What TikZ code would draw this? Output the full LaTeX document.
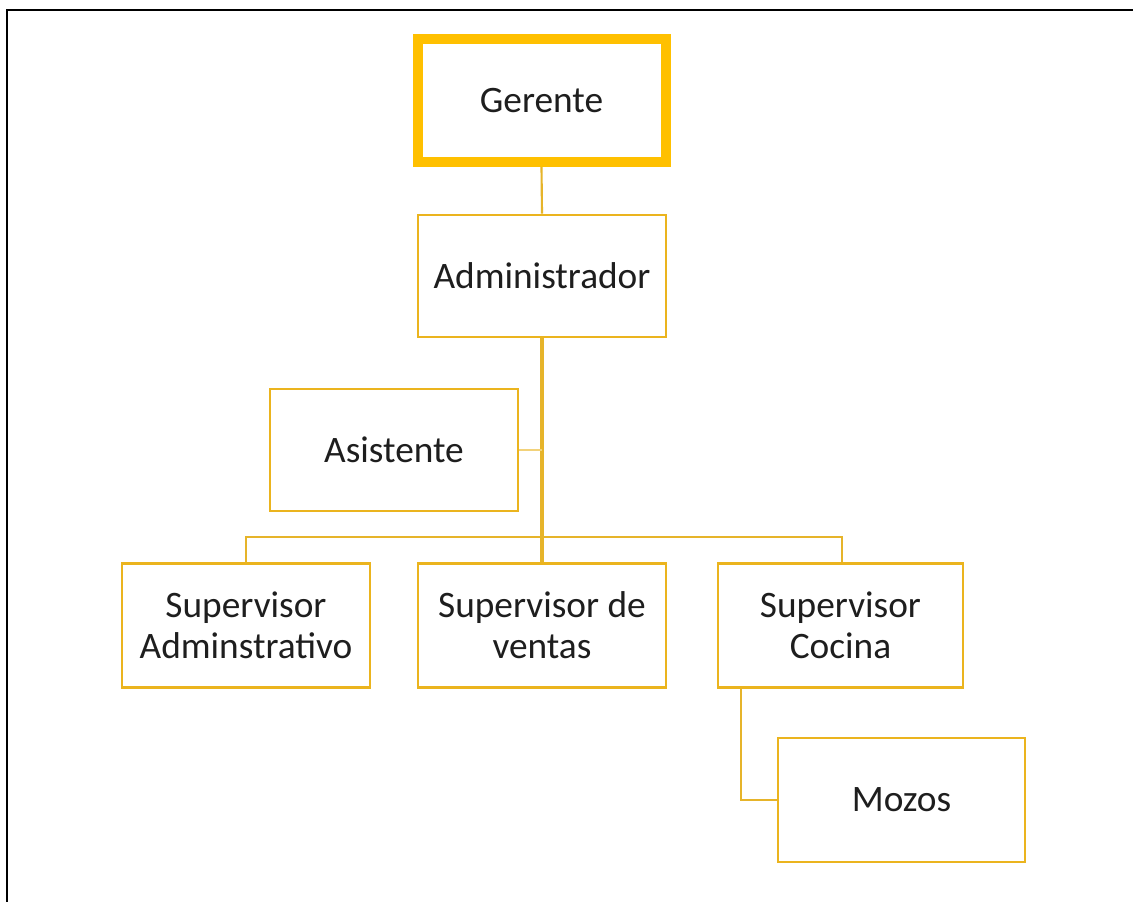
\documentclass[tikz,border=0pt]{standalone}
\usepackage{fontspec}
\setmainfont{Carlito}
\definecolor{gold}{HTML}{FFC000}
\definecolor{boxgold}{HTML}{EBB41E}
\definecolor{linegold}{HTML}{E6B42A}
\definecolor{lightgold}{HTML}{F2D27A}
\definecolor{txt}{HTML}{1E1E1E}
\tikzset{
  orgbox/.style={draw=boxgold, line width=1.6pt, fill=white, text=txt,
    minimum width=186pt, minimum height=92pt, inner sep=0pt, align=center,
    font=\fontsize{28pt}{31pt}\selectfont},
  topbox/.style={orgbox, draw=gold, line width=7.5pt},
  conn/.style={draw=linegold, line width=1.6pt},
  trunk/.style={draw=linegold, line width=2.4pt},
}
\begin{document}
\begin{tikzpicture}[x=0.75pt,y=-0.75pt]
\useasboundingbox[fill=white] (0,0) rectangle (1133,902);
\coordinate (tl) at (7,10);
\coordinate (tr) at (1133,10);
\coordinate (bl) at (7,902);
\draw[line width=2pt, black] (tr) -- (tl) -- (bl);

\node[topbox] (ger) at (541.5,100.5) {Gerente};
\node[orgbox] (adm) at (542,276) {Administrador};
\node[orgbox] (asi) at (394,450) {Asistente};
\node[orgbox, minimum height=93pt] (sa) at (246,625.5) {Supervisor\\Adminstrativo};
\node[orgbox, minimum height=93pt] (sv) at (542,625.5) {Supervisor de\\ventas};
\node[orgbox, minimum height=93pt, minimum width=184pt] (sc) at (840.5,625.5) {Supervisor\\Cocina};
\node[orgbox, minimum height=93pt, minimum width=185pt] (mz) at (901.5,800) {Mozos};

\coordinate (bus) at (542,537);
\draw[conn] (ger.south) -- (adm.north);
\draw[trunk] (adm.south) -- (sv.north);
\draw[conn, draw=lightgold] (asi.east) -- (asi.east -| adm.south);
\draw[conn] (sa.north) |- (bus) -| ([xshift=1pt]sc.north);
\draw[conn] ([xshift=18pt]sc.south west) |- (mz.west);
\end{tikzpicture}
\end{document}
